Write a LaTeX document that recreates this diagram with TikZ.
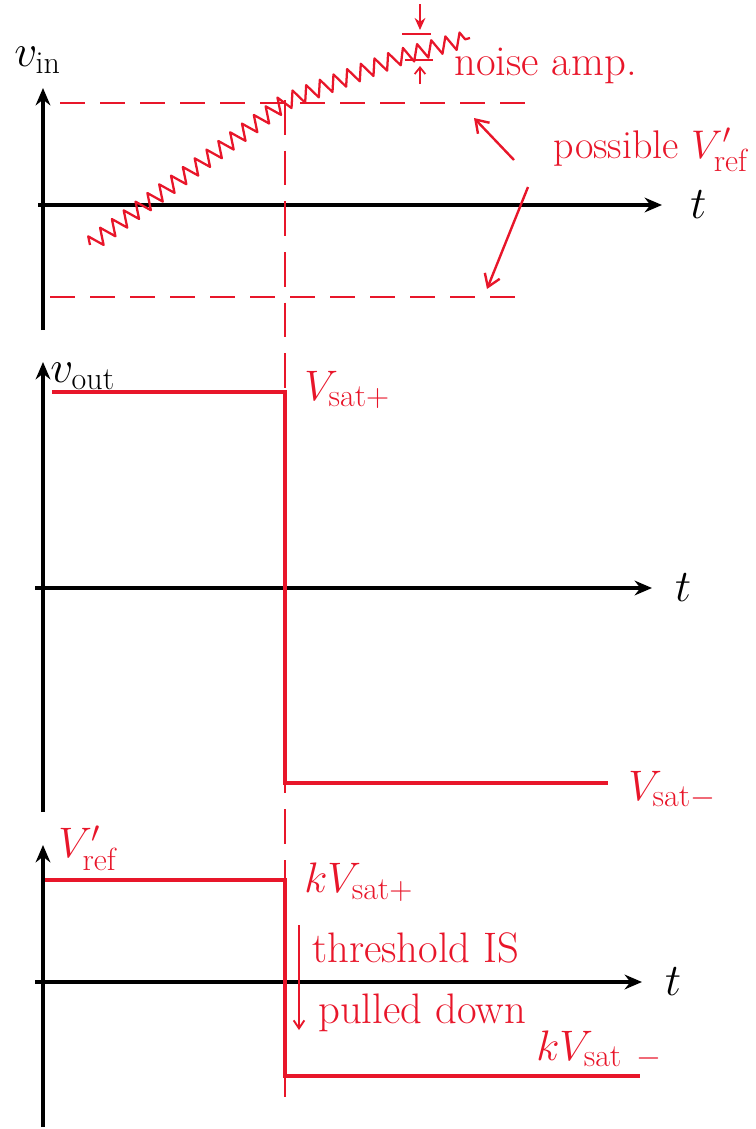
\RequirePackage{fix-cm}
\documentclass[tikz,border=0pt]{standalone}
\usepackage{amsmath}
\usetikzlibrary{arrows.meta, decorations.pathmorphing}
\definecolor{pen}{RGB}{232,22,42}
\newcommand{\lsub}[1]{_{\text{\fontsize{24}{26}\selectfont #1}}}
\tikzset{
	axis/.style={line width=2.6pt, -{Stealth[length=13pt,width=11pt]}},
	sig/.style={pen, line width=2.4pt},
	guide/.style={pen, line width=1.7pt, dash pattern=on 19pt off 11pt},
	lbl/.style={pen, font=\fontsize{32}{36}\selectfont, inner sep=0pt},
	albl/.style={font=\fontsize{34}{38}\selectfont, inner sep=0pt},
	noisy/.style={pen, line width=1.7pt, line join=round, decorate, decoration={zigzag, segment length=11pt, amplitude=6pt}},
}

\begin{document}
\begin{tikzpicture}[x=0.75pt, y=-0.75pt]
			\useasboundingbox (0,0) rectangle (756,1129);
			% v_in
			\coordinate (Y1b) at (43,330);
			\coordinate (Y1t) at (43,88);
			\coordinate (X1l) at (38,205);
			\coordinate (X1r) at (662,205);
			\draw[axis] (Y1b) -- (Y1t);
			\draw[axis] (X1l) -- (X1r) node[albl, right=20pt] (t1) {$t$};
			\node[albl, anchor=west] (vin) at (14,60) {$v\lsub{in}$};
			\coordinate (Rhi1) at (60,103);
			\coordinate (Rhi2) at (525,103);
			\coordinate (Rlo1) at (50,297);
			\coordinate (Rlo2) at (525,297);
			\draw[guide] (Rhi1) -- (Rhi2);
			\draw[guide] (Rlo1) -- (Rlo2);
			\coordinate (n0) at (90,245);
			\coordinate (n1) at (285,102);
			\coordinate (n2) at (400,57);
			\coordinate (n3) at (470,38);
			\draw[noisy] (n0) -- (n1) -- (n2) -- (n3);
			\draw[pen, line width=1.8pt, -{Stealth[length=9pt,width=8pt]}] (420,4) -- (420,30);
			\draw[pen, line width=1.8pt] (402,34) -- (431,34);
			\draw[pen, line width=1.8pt] (405,60) -- (433,60);
			\draw[pen, line width=1.3pt, -{Straight Barb[length=5pt,width=8pt]}] (420,84) -- (420,66);
			\node[lbl, anchor=west] (namp) at (454,66) {noise amp.};
			\node[lbl, anchor=east, font=\fontsize{30}{34}\selectfont] (pvref) at (748,150) {possible $V'\lsub{ref}$};
			\coordinate (p1) at (514,160);
			\coordinate (p2) at (474,118);
			\coordinate (q1) at (528,187);
			\coordinate (q2) at (487,289);
			\draw[pen, line width=1.8pt, -{Straight Barb[length=9pt,width=12pt]}] (p1) -- (p2);
			\draw[pen, line width=1.8pt, -{Straight Barb[length=9pt,width=12pt]}] (q1) -- (q2);
			% switching instant
			\coordinate (Sw1) at (285,100);
			\coordinate (Sw2) at (285,1112);
			\draw[pen, line width=1.5pt, dash pattern=on 26pt off 12pt] (Sw1) -- (Sw2);
			% v_out
			\coordinate (Y2b) at (43,812);
			\coordinate (Y2t) at (43,362);
			\coordinate (X2l) at (35,588);
			\coordinate (X2r) at (652,588);
			\draw[axis] (Y2b) -- (Y2t);
			\draw[axis] (X2l) -- (X2r) node[albl, right=16pt] (t2) {$t$};
			\node[albl, anchor=west] (vout) at (50,376) {$v\lsub{out}$};
			\coordinate (A1) at (52,392);
			\coordinate (A2) at (285,392);
			\coordinate (A3) at (285,783);
			\coordinate (A4) at (608,783);
			\draw[sig] (A1) -- (A2) -- (A3) -- (A4);
			\node[lbl, anchor=west] (vsp) at (304,390) {$V\lsub{sat$+$}$};
			\node[lbl, anchor=west] (vsm) at (628,790) {$V\lsub{sat$-$}$};
			% V'_ref
			\coordinate (Y3b) at (43,1127);
			\coordinate (Y3t) at (43,845);
			\coordinate (X3l) at (35,982);
			\coordinate (X3r) at (642,982);
			\draw[axis] (Y3b) -- (Y3t);
			\draw[axis] (X3l) -- (X3r) node[albl, right=16pt] (t3) {$t$};
			\node[lbl, anchor=west] (vref) at (58,848) {$V'\lsub{ref}$};
			\coordinate (B1) at (45,880);
			\coordinate (B2) at (285,880);
			\coordinate (B3) at (285,1076);
			\coordinate (B4) at (640,1076);
			\draw[sig] (B1) -- (B2) -- (B3) -- (B4);
			\node[lbl, anchor=west] (ksp) at (304,882) {$kV\lsub{sat$+$}$};
			\node[lbl, anchor=west] (ksm) at (536,1050) {$kV\lsub{sat\ \,$-$}$};
			\coordinate (d1) at (299,925);
			\coordinate (d2) at (299,1030);
			\draw[pen, line width=1.4pt, -{Straight Barb[length=6pt,width=8pt]}] (d1) -- (d2);
			\node[lbl, anchor=west] (thr) at (312,948) {threshold IS};
			\node[lbl, anchor=west] (pdn) at (318,1013) {pulled down};
		\end{tikzpicture}
\end{document}
